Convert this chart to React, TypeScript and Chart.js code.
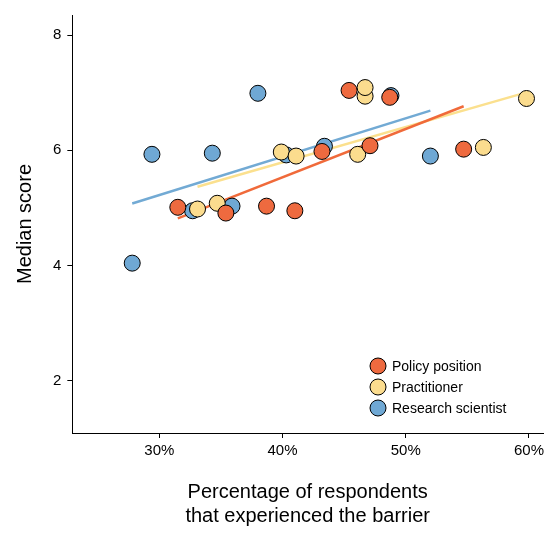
import React, { useEffect, useRef } from 'react';
import { Chart, registerables } from 'chart.js';

Chart.register(...registerables);

const seriesNames = ['Policy position', 'Practitioner', 'Research scientist'];
const colors = ['#ee6a3f', '#fbdc8e', '#6fa8d4'];
const lineColors = ['#f06a3a', '#fbe08e', '#72aad4'];

const policyX = [31.5, 35.4, 38.7, 41.0, 43.2, 45.4, 47.1, 48.7, 54.7];
const policyY = [5.01, 4.91, 5.03, 4.95, 5.98, 7.04, 6.08, 6.92, 6.02];
const practX = [33.1, 34.7, 39.9, 41.1, 46.1, 46.7, 46.7, 56.3, 59.8];
const practY = [4.98, 5.08, 5.97, 5.9, 5.93, 6.94, 7.09, 6.05, 6.9];
const researchX = [27.8, 29.4, 32.7, 34.3, 35.9, 38.0, 40.3, 43.4, 48.8, 52.0];
const researchY = [4.04, 5.93, 4.95, 5.95, 5.03, 6.99, 5.92, 6.07, 6.95, 5.9];

const xTicks = [30, 40, 50, 60];
const yTicks = [2, 4, 6, 8];

const FONT = 'Helvetica, "Liberation Sans", Arial, sans-serif';

function fit(xs: number[], ys: number[]) {
  const n = xs.length;
  const mx = xs.reduce((a, b) => a + b, 0) / n;
  const my = ys.reduce((a, b) => a + b, 0) / n;
  let sxy = 0, sxx = 0;
  xs.forEach((x, i) => { sxy += (x - mx) * (ys[i] - my); sxx += (x - mx) ** 2; });
  const b = sxy / sxx;
  const x0 = Math.min(...xs), x1 = Math.max(...xs);
  return [{ x: x0, y: my + b * (x0 - mx) }, { x: x1, y: my + b * (x1 - mx) }];
}

const legendPlugin = {
  id: 'insideLegend',
  afterDraw(chart: any) {
    const ctx = chart.ctx;
    const x = 378, y0 = 366;
    ctx.save();
    ctx.font = `14px ${FONT}`;
    ctx.textBaseline = 'middle';
    seriesNames.forEach((name, i) => {
      const y = y0 + i * 21;
      ctx.beginPath();
      ctx.arc(x, y, 8, 0, Math.PI * 2);
      ctx.fillStyle = colors[i];
      ctx.fill();
      ctx.lineWidth = 1;
      ctx.strokeStyle = '#000';
      ctx.stroke();
      ctx.fillStyle = '#000';
      ctx.fillText(name, x + 14, y + 1);
    });
    ctx.restore();
  },
};

export default function App() {
  const canvasRef = useRef<HTMLCanvasElement>(null);

  useEffect(() => {
    document.body.style.margin = '0';
    if (!canvasRef.current) return;
    const xs = [policyX, practX, researchX];
    const ys = [policyY, practY, researchY];
    const lines = xs.map((x, i) => ({
      type: 'line' as const,
      data: fit(x, ys[i]),
      borderColor: lineColors[i],
      borderWidth: 2.5,
      pointRadius: 0,
      fill: false,
      order: 2,
    }));
    const points = xs.map((x, i) => ({
      type: 'scatter' as const,
      label: seriesNames[i],
      data: x.map((v, j) => ({ x: v, y: ys[i][j] })),
      backgroundColor: colors[i],
      borderColor: '#000',
      borderWidth: 1,
      pointRadius: 8,
      order: 1,
    }));
    const grid = { display: true, drawOnChartArea: false, drawTicks: true, tickLength: 5, tickColor: '#000' };
    const chart = new Chart(canvasRef.current, {
      type: 'scatter',
      data: { datasets: [...lines, ...points] as any },
      options: {
        animation: false,
        responsive: false,
        layout: { padding: { top: 10, right: 0, left: 9, bottom: 28 } },
        plugins: { legend: { display: false }, tooltip: { enabled: false } },
        scales: {
          x: {
            type: 'linear', min: 22.94, max: 61.14,
            afterBuildTicks: (s: any) => { s.ticks = xTicks.map(v => ({ value: v })); },
            ticks: { callback: (v: any) => v + '%', color: '#000', font: { family: FONT, size: 15 }, padding: 4 },
            grid,
            border: { color: '#000', width: 1 },
            title: { display: true, text: ['Percentage of respondents', 'that experienced the barrier'], color: '#000', font: { family: FONT, size: 20 }, padding: { top: 16 } },
          },
          y: {
            type: 'linear', min: 1.09, max: 8.35,
            afterBuildTicks: (s: any) => { s.ticks = yTicks.map(v => ({ value: v })); },
            ticks: { color: '#000', font: { family: FONT, size: 15 }, padding: 6 },
            grid,
            border: { color: '#000', width: 1 },
            title: { display: true, text: 'Median score', color: '#000', font: { family: FONT, size: 20 }, padding: { bottom: 10 } },
          },
        },
      },
      plugins: [legendPlugin],
    });
    return () => chart.destroy();
  }, []);

  return (
    <div style={{ width: 552, height: 560, background: '#fff' }}>
      <canvas ref={canvasRef} width={552} height={560} />
    </div>
  );
}
